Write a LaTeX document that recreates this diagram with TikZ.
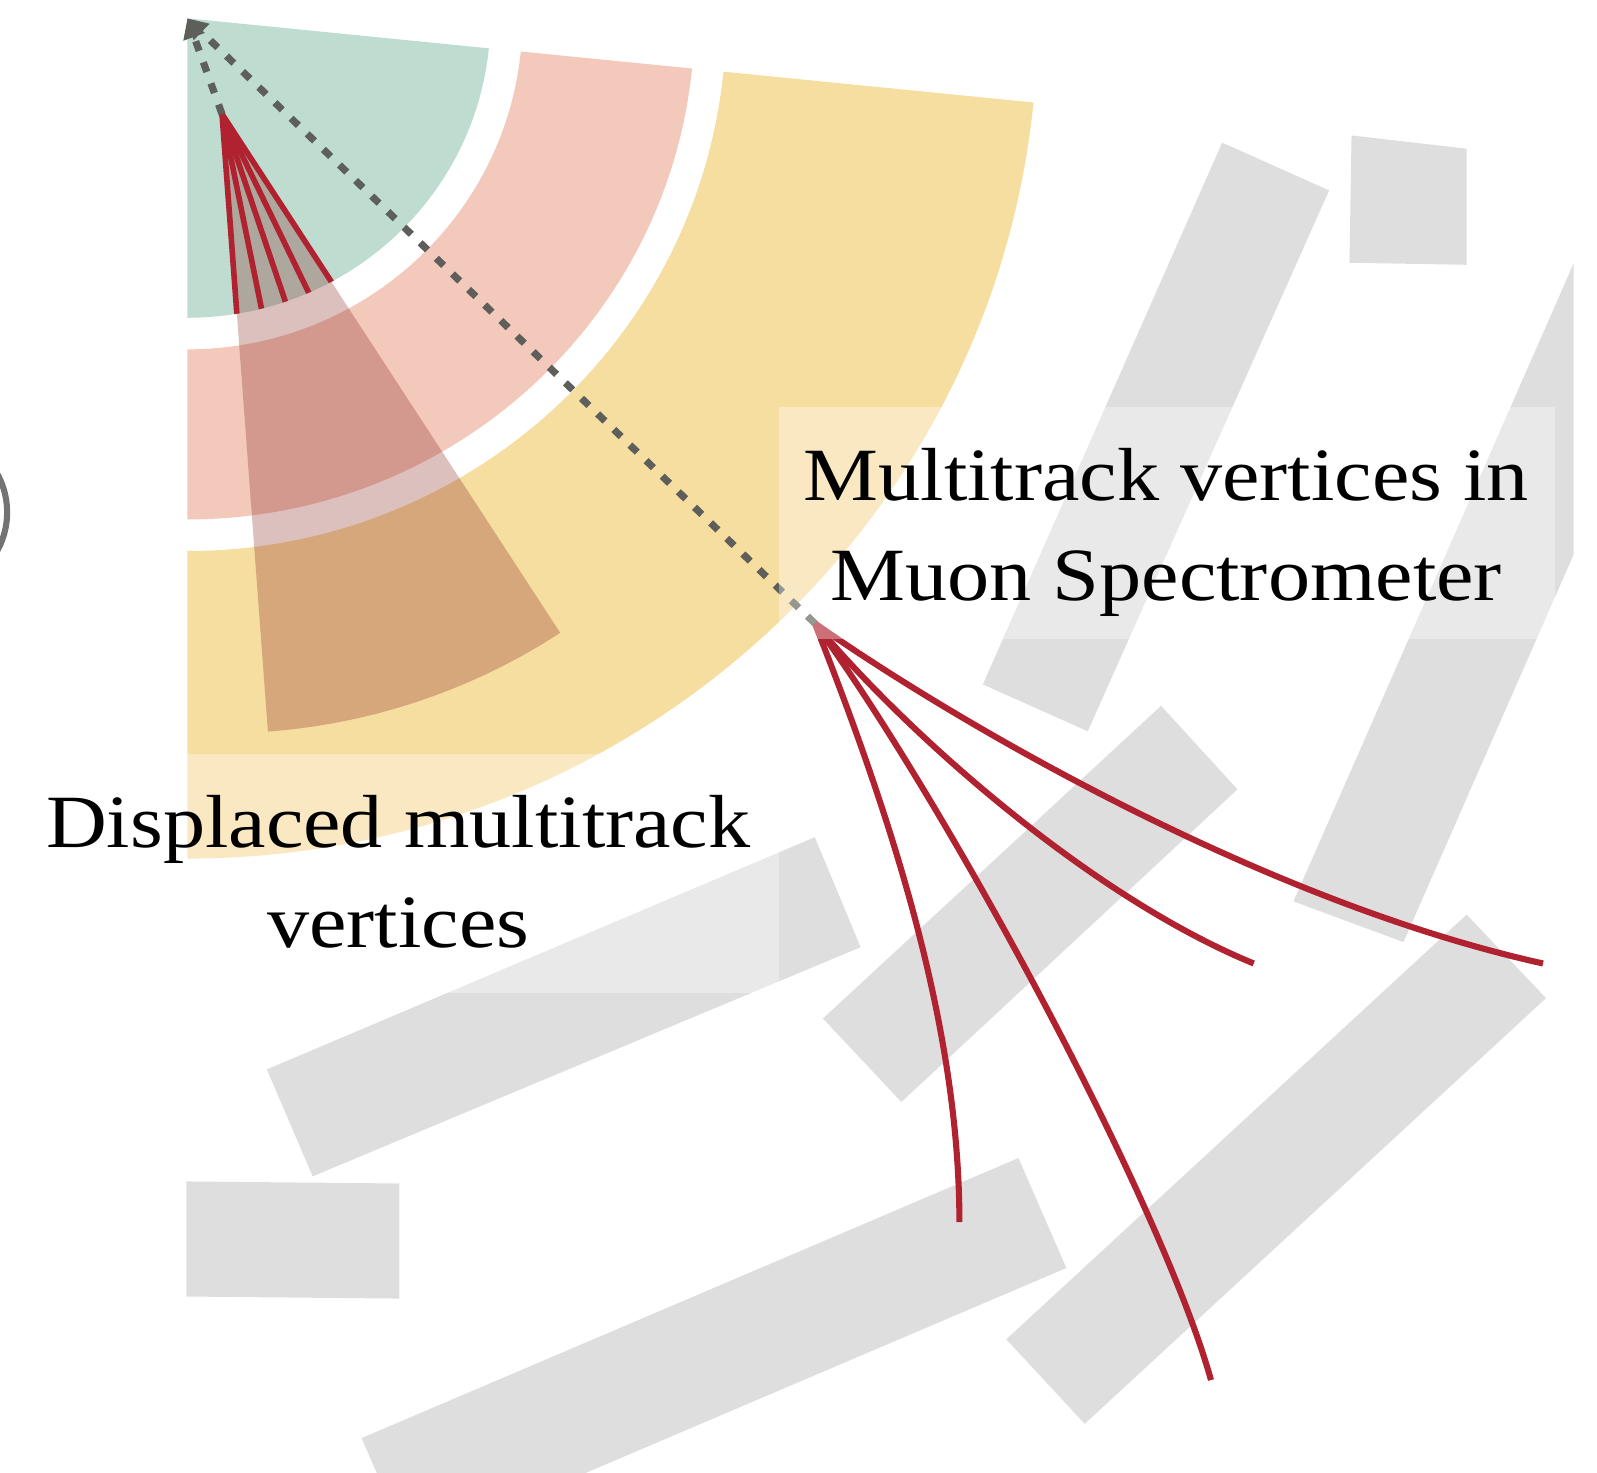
\documentclass[tikz,border=0pt]{standalone}
\usepackage{fontspec}
\setmainfont{Liberation Serif}[FakeStretch=1.12]
\usetikzlibrary{arrows.meta}

\definecolor{innerdet}{RGB}{191,220,209}
\definecolor{calodet}{RGB}{243,201,188}
\definecolor{hcaldet}{RGB}{246,221,160}
\definecolor{muonbar}{RGB}{222,222,222}
\definecolor{trackred}{RGB}{176,34,48}
\definecolor{conecol}{RGB}{138,45,38}
\definecolor{dotgray}{RGB}{94,94,90}
\definecolor{ringgray}{RGB}{115,115,115}

\tikzset{
  px/.style={line width=#1*0.2845pt},
  barfill/.style={fill=muonbar},
  redline/.style={draw=trackred, px=5.5},
  trackcurve/.style={draw=trackred, px=6, line cap=butt},
  dotline/.style={draw=dotgray, px=7, dash pattern=on 10*0.2845pt off 12*0.2845pt,
    -{Triangle[length=5.5pt,width=6pt]}},
  labelbg/.style={fill=white, fill opacity=0.35},
  lbl/.style={align=center, font=\fontsize{21pt}{27.9pt}\selectfont, inner sep=0pt}
}

\begin{document}
\begin{tikzpicture}[x=0.01cm, y=-0.01cm]
\useasboundingbox (0,0) rectangle (1568,1446);
\begin{scope}
\clip (0,0) rectangle (1568,1446);

% key points: interaction point, displaced vertex, muon-spectrometer vertex
\coordinate (O) at (184,18);
\coordinate (P) at (218,112);
\coordinate (M) at (800,612);

% partial ring at the left edge
\draw[draw=ringgray, px=6] (-71,503) circle (78);

% inner detector
\fill[innerdet] (O) -- ++(5.75:297.5 and 294)
  arc[start angle=5.75, end angle=90, x radius=297.5, y radius=294] -- cycle;
% electromagnetic calorimeter
\fill[calodet] ([shift={(5.75:498 and 492)}]O)
  arc[start angle=5.75, end angle=90, x radius=498, y radius=492]
  -- ([shift={(90:329 and 325)}]O)
  arc[start angle=90, end angle=5.75, x radius=329, y radius=325] -- cycle;
% hadronic calorimeter
\fill[hcaldet] ([shift={(5.75:835 and 825)}]O)
  arc[start angle=5.75, end angle=90, x radius=835, y radius=825]
  -- ([shift={(90:529 and 523)}]O)
  arc[start angle=90, end angle=5.75, x radius=529, y radius=523] -- cycle;

% jet cone from the displaced vertex
\fill[conecol, fill opacity=0.3] (P) -- ++(85.75:608)
  arc[start angle=85.75, end angle=56.9, radius=608] -- cycle;

% tracks of the displaced vertex, stopping at the inner detector edge
\begin{scope}
  \clip (O) ellipse[x radius=297.5, y radius=294];
  \foreach \a in {85.75,78.54,71.33,64.11,56.9}
    \draw[redline] (P) -- ++(\a:320);
\end{scope}

% muon spectrometer chambers
\begin{scope}
  \clip (0,0) rectangle (1545,1446);
  \fill[barfill] (1200,140) -- (1305,187) -- (1068,718) -- (965,672) -- cycle;
  \fill[barfill] (1327,133) -- (1440,146) -- (1440,260) -- (1325,258) -- cycle;
  \fill[barfill] (1270,885) -- (1580,179) -- (1688,219) -- (1378,925) -- cycle;
  \fill[barfill] (1140,693) -- (1215,775) -- (885,1082) -- (808,1000) -- cycle;
  \fill[barfill] (1440,898) -- (1518,980) -- (1065,1398) -- (988,1315) -- cycle;
  \fill[barfill] (262,1050) -- (800,822) -- (845,930) -- (307,1155) -- cycle;
  \fill[barfill] (183,1160) -- (392,1162) -- (392,1275) -- (183,1273) -- cycle;
  \fill[barfill] (355,1412) -- (1000,1137) -- (1047,1245) -- (402,1520) -- cycle;
\end{scope}

% tracks of the muon-spectrometer vertex
\coordinate (t1) at (942,1200);
\coordinate (t2) at (1189,1355);
\coordinate (t3) at (1231,946);
\coordinate (t4) at (1515,946);
\draw[trackcurve] (M) .. controls (870,790) and (942,1000) .. (t1);
\draw[trackcurve] (M) .. controls (930,790) and (1140,1180) .. (t2);
\draw[trackcurve] (M) .. controls (890,720) and (1070,880) .. (t3);
\draw[trackcurve] (M) .. controls (940,710) and (1240,885) .. (t4);

% flight paths back to the interaction point
\draw[dotline] (P) -- (O);
\draw[dotline] (M) -- (O);

% label backgrounds
\fill[labelbg] (765,400) rectangle (1527,627);
\fill[labelbg] (17,740) rectangle (765,975);
\end{scope}

% labels (base anchor sits on the last line)
\node[lbl, anchor=base] (msl) at (1145,590) {Multitrack vertices in\\Muon Spectrometer};
\node[lbl, anchor=base] (dvl) at (391,930) {Displaced multitrack\\vertices};
\end{tikzpicture}
\end{document}
